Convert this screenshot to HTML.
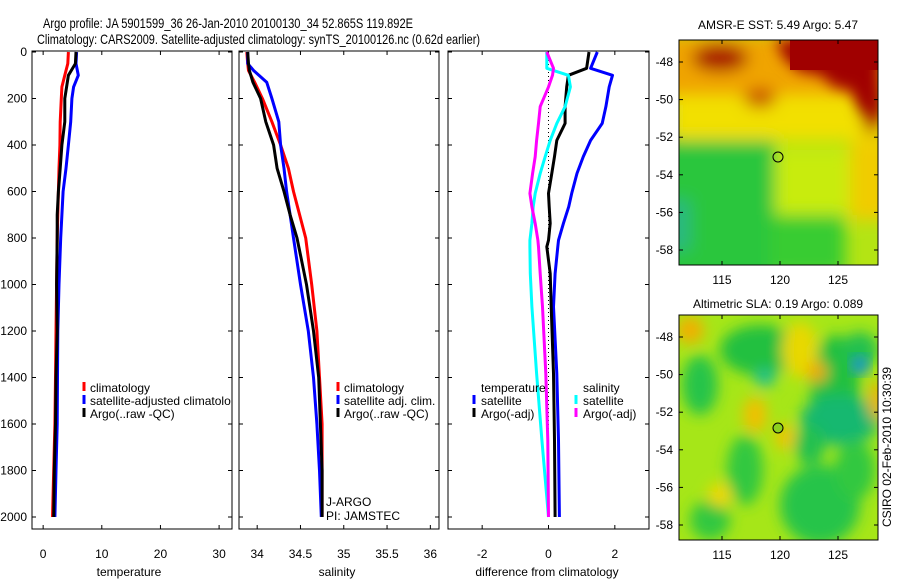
<!DOCTYPE html>
<html><head><meta charset="utf-8"><style>
html,body{margin:0;padding:0;background:#fff;}
svg{display:block;font-family:"Liberation Sans",sans-serif;}
</style></head><body>
<svg id="fig" width="900" height="580" viewBox="0 0 900 580">
<defs>
<filter id="blur1" x="-20%" y="-20%" width="140%" height="140%"><feGaussianBlur stdDeviation="8"/></filter>
<filter id="blur2" x="-20%" y="-20%" width="140%" height="140%"><feGaussianBlur stdDeviation="7"/></filter>
<clipPath id="cm1"><rect x="679" y="40" width="199" height="225"/></clipPath>
<clipPath id="cm2"><rect x="679" y="315" width="199" height="225"/></clipPath>
</defs>
<text x="43" y="28" font-size="14" textLength="370" lengthAdjust="spacingAndGlyphs">Argo profile: JA 5901599_36 26-Jan-2010 20100130_34 52.865S 119.892E</text>
<text x="37" y="44" font-size="14" textLength="443" lengthAdjust="spacingAndGlyphs">Climatology: CARS2009. Satellite-adjusted climatology: synTS_20100126.nc (0.62d earlier)</text>

<g>
<text x="778" y="29" font-size="12" text-anchor="middle">AMSR-E SST: 5.49 Argo: 5.47</text>
<g clip-path="url(#cm1)">
<rect x="679" y="40" width="199" height="225" fill="#b4e414"/>
<g filter="url(#blur1)">
<rect x="770" y="150" width="120" height="70" fill="#c8ec10"/>
<rect x="850" y="130" width="40" height="90" fill="#f0cc00"/>
<rect x="660" y="105" width="115" height="180" fill="#2cc63c"/>
<rect x="770" y="215" width="75" height="60" fill="#38cc30"/>
<rect x="660" y="200" width="30" height="50" fill="#2ab880"/>
<rect x="670" y="85" width="220" height="55" fill="#f2e000"/>
<rect x="660" y="35" width="240" height="60" fill="#f0a400"/>
<ellipse cx="720" cy="58" rx="28" ry="14" fill="#a81000"/>
<ellipse cx="760" cy="98" rx="16" ry="10" fill="#c85000"/>
<ellipse cx="872" cy="110" rx="10" ry="25" fill="#b01800"/>
</g>
<path d="M775,40 H880 V120 L860,110 L850,90 L835,88 L820,75 L800,72 L785,60 Z" fill="#a00000" filter="url(#blur2)"/>
<rect x="790" y="40" width="90" height="30" fill="#a00000"/>
</g>
<rect x="679" y="40" width="199" height="225" fill="none" stroke="#000"/>
<circle cx="778" cy="157" r="5" fill="none" stroke="#000"/>
</g>

<g>
<text x="778" y="308" font-size="12" text-anchor="middle">Altimetric SLA: 0.19 Argo: 0.089</text>
<g clip-path="url(#cm2)">
<rect x="679" y="315" width="199" height="225" fill="#a6e618"/>
<g filter="url(#blur2)">
<ellipse cx="760" cy="350" rx="40" ry="25" fill="#20c040"/>
<ellipse cx="765" cy="378" rx="10" ry="9" fill="#20c090"/>
<ellipse cx="835" cy="385" rx="25" ry="50" fill="#20c040"/>
<ellipse cx="840" cy="420" rx="40" ry="25" fill="#18b870"/>
<ellipse cx="860" cy="350" rx="18" ry="18" fill="#20c050"/>
<ellipse cx="810" cy="445" rx="15" ry="20" fill="#20c050"/>
<ellipse cx="700" cy="385" rx="18" ry="30" fill="#28c448"/>
<ellipse cx="745" cy="470" rx="18" ry="35" fill="#30c840"/>
<ellipse cx="820" cy="505" rx="40" ry="40" fill="#28c448"/>
<ellipse cx="855" cy="470" rx="20" ry="30" fill="#30c840"/>
<ellipse cx="710" cy="520" rx="20" ry="20" fill="#30c840"/>
<ellipse cx="800" cy="350" rx="18" ry="28" fill="#e8d800"/>
<ellipse cx="817" cy="372" rx="10" ry="10" fill="#f0a800"/>
<ellipse cx="755" cy="415" rx="12" ry="18" fill="#f0c000"/>
<ellipse cx="785" cy="437" rx="10" ry="13" fill="#eec400"/>
<ellipse cx="690" cy="330" rx="14" ry="14" fill="#f0b000"/>
<ellipse cx="877" cy="400" rx="8" ry="20" fill="#f0b000"/>
<ellipse cx="720" cy="495" rx="12" ry="12" fill="#f0d800"/>
</g>
<ellipse cx="860" cy="365" rx="9" ry="9" fill="#1890e0" filter="url(#blur2)"/>
</g>
<rect x="679" y="315" width="199" height="225" fill="none" stroke="#000"/>
<circle cx="778" cy="428" r="5" fill="#8cd020" stroke="#000"/>
</g>
<text transform="translate(891,447) rotate(-90)" font-size="12" text-anchor="middle">CSIRO 02-Feb-2010 10:30:39</text>
<g id="axes"></g>
</svg>
<script>
// depth levels and series
const tDepth = [0,50,100,150,200,300,400,500,600,700,800,1000,1200,1400,1600,1800,2000];
const tClim  = [4.3,4.2,3.7,3.2,3.1,2.9,2.85,2.7,2.6,2.5,2.4,2.3,2.2,2.1,2.0,1.8,1.6];
const tSat   = [5.7,5.6,6.0,5.2,4.9,4.7,4.3,3.9,3.4,3.2,3.0,2.7,2.5,2.45,2.4,2.2,2.0];
const tArgo  = [5.6,5.5,4.3,4.0,3.7,3.7,3.2,2.9,2.6,2.4,2.4,2.3,2.4,2.2,2.1,1.9,1.8];
const sDepth = [0,50,80,130,200,300,400,500,600,700,800,1000,1200,1400,1600,1800,2000];
const sClim  = [33.88,33.89,33.9,33.97,34.06,34.17,34.27,34.36,34.42,34.49,34.56,34.63,34.69,34.72,34.75,34.75,34.75];
const sSat   = [33.89,33.89,33.96,34.11,34.17,34.25,34.27,34.31,34.34,34.38,34.42,34.5,34.59,34.65,34.69,34.72,34.74];
const sArgo  = [33.89,33.9,33.91,33.95,34.04,34.1,34.19,34.23,34.31,34.38,34.46,34.57,34.65,34.71,34.73,34.75,34.75];
const dDepth = [0,70,100,150,235,307,380,450,522,608,666,737,810,838,953,1096,1383,1670,2000];
const dTSat  = [1.47,1.27,1.93,1.83,1.73,1.62,1.27,1.05,0.86,0.7,0.61,0.45,0.30,0.28,0.2,0.15,0.25,0.3,0.33];
const dTArgo = [1.22,1.15,0.6,0.55,0.5,0.5,0.25,0.18,0.1,0.0,0.02,0.05,0.0,-0.05,0.05,0.08,0.15,0.18,0.2];
const dSSat  = [-0.05,-0.05,0.6,0.66,0.5,0.25,0.05,-0.1,-0.25,-0.4,-0.46,-0.5,-0.56,-0.56,-0.55,-0.5,-0.36,-0.2,0.0];
const dSArgo = [-0.05,0.15,0.12,0.0,-0.25,-0.3,-0.36,-0.4,-0.48,-0.56,-0.5,-0.4,-0.32,-0.3,-0.25,-0.18,-0.08,-0.02,0.0];
const yTicks = [0,200,400,600,800,1000,1200,1400,1600,1800,2000];
const tTicks = [0,10,20,30];
const sTicks = [34,34.5,35,35.5,36];
const dTicks = [-2,0,2];
const lonTicks = [115,120,125];
const latTicks = [-48,-50,-52,-54,-56,-58];

const NS='http://www.w3.org/2000/svg';
const g=document.getElementById('axes');
function mk(tag,attrs,parent){const e=document.createElementNS(NS,tag);for(const k in attrs)e.setAttribute(k,attrs[k]);(parent||g).appendChild(e);return e;}
const yD = d => 52 + d*0.2325;
const panels=[
 {x0:32,x1:232,lo:-1.9,hi:32.2,ticks:tTicks,label:'temperature',lx:129,name:'temperature-panel'},
 {x0:239,x1:439,lo:33.79,hi:36.1,ticks:sTicks,label:'salinity',lx:337,name:'salinity-panel'},
 {x0:448,x1:649,lo:-3.03,hi:3.03,ticks:dTicks,label:'difference from climatology',lx:547,name:'difference-panel'}
];
panels.forEach(p=>{p.sx=v=>p.x0+(v-p.lo)/(p.hi-p.lo)*(p.x1-p.x0);});
panels.forEach((p,i)=>{
 const pg=mk('g',{});
 
 
 mk('rect',{x:p.x0,y:51,width:p.x1-p.x0,height:478,fill:'none',stroke:'#000'},pg);
 p.ticks.forEach(t=>{const x=p.sx(t);
  mk('line',{x1:x,x2:x,y1:529,y2:525,stroke:'#000'},pg);
  mk('line',{x1:x,x2:x,y1:51,y2:55,stroke:'#000'},pg);
  const tx=mk('text',{x:x,y:558,'font-size':12,'text-anchor':'middle'},pg);tx.textContent=t;
  
  
 });
 yTicks.forEach(t=>{const y=yD(t);
  mk('line',{x1:p.x0,x2:p.x0+4,y1:y,y2:y,stroke:'#000'},pg);
  mk('line',{x1:p.x1,x2:p.x1-4,y1:y,y2:y,stroke:'#000'},pg);
  if(i===0){const tx=mk('text',{x:27,y:y+4,'font-size':12,'text-anchor':'end'},pg);tx.textContent=t;
   
   }
 });
 const lb=mk('text',{x:p.lx,y:576,'font-size':12,'text-anchor':'middle'},pg);lb.textContent=p.label;
 
 
});
function stair(p,depths,vals,color,name){
 let d='';
 for(let k=0;k<depths.length;k++){const x=p.sx(vals[k]).toFixed(1),y=yD(depths[k]).toFixed(1);d+=(k?'L':'M')+x+','+y;}
 const e=mk('path',{d:d,fill:'none',stroke:color,'stroke-width':3,'stroke-linejoin':'round'});
 
 
}
const P=panels;
stair(P[0],tDepth,tClim,'#f00','temp-climatology-line');
stair(P[0],tDepth,tSat,'#00f','temp-satellite-line');
stair(P[0],tDepth,tArgo,'#000','temp-argo-line');
stair(P[1],sDepth,sClim,'#f00','sal-climatology-line');
stair(P[1],sDepth,sSat,'#00f','sal-satellite-line');
stair(P[1],sDepth,sArgo,'#000','sal-argo-line');
const zl=mk('line',{x1:P[2].sx(0),x2:P[2].sx(0),y1:52,y2:517,stroke:'#000','stroke-dasharray':'1,3'});


stair(P[2],dDepth,dTSat,'#00f','diff-temp-satellite-line');
stair(P[2],dDepth,dTArgo,'#000','diff-temp-argo-line');
stair(P[2],dDepth,dSSat,'#0ff','diff-sal-satellite-line');
stair(P[2],dDepth,dSArgo,'#f0f','diff-sal-argo-line');

function legend(mx,tx,y,color,label){
 const lg=mk('g',{});
 
 
 if(color) mk('rect',{x:mx-1.5,y:y-6,width:3,height:9,fill:color},lg);
 const t=mk('text',{x:tx,y:y+4,'font-size':12},lg);t.textContent=label;
}
legend(84,90,388,'#f00','climatology');
legend(84,90,401,'#00f','satellite-adjusted climatolo');
legend(84,90,414,'#000','Argo(..raw -QC)');
legend(338,344,388,'#f00','climatology');
legend(338,344,401,'#00f','satellite adj. clim.');
legend(338,344,414,'#000','Argo(..raw -QC)');
legend(0,481,388,null,'temperature');
legend(474,481,401,'#00f','satellite');
legend(474,481,414,'#000','Argo(-adj)');
legend(0,583,388,null,'salinity');
legend(576,583,401,'#0ff','satellite');
legend(576,583,414,'#f0f','Argo(-adj)');
legend(0,326,502,null,'J-ARGO');
legend(0,326,516,null,'PI: JAMSTEC');

// map axes
const lonX = v => 722 + (v-115)*11.6;
[[40,265,62],[315,540,337]].forEach(([top,bot,y48],mi)=>{
 const latY = v => y48 + (-48 - v)*18.8;
 lonTicks.forEach(t=>{const x=lonX(t);
  mk('line',{x1:x,x2:x,y1:bot,y2:bot-4,stroke:'#000'});
  mk('line',{x1:x,x2:x,y1:top,y2:top+4,stroke:'#000'});
  const tx=mk('text',{x:x,y:bot+19,'font-size':12,'text-anchor':'middle'});tx.textContent=t;
  
  
 });
 latTicks.forEach(t=>{const y=latY(t);
  mk('line',{x1:679,x2:683,y1:y,y2:y,stroke:'#000'});
  mk('line',{x1:878,x2:874,y1:y,y2:y,stroke:'#000'});
  const tx=mk('text',{x:673,y:y+4,'font-size':12,'text-anchor':'end'});tx.textContent=t;
  
  
 });
});
</script>
</body></html>
